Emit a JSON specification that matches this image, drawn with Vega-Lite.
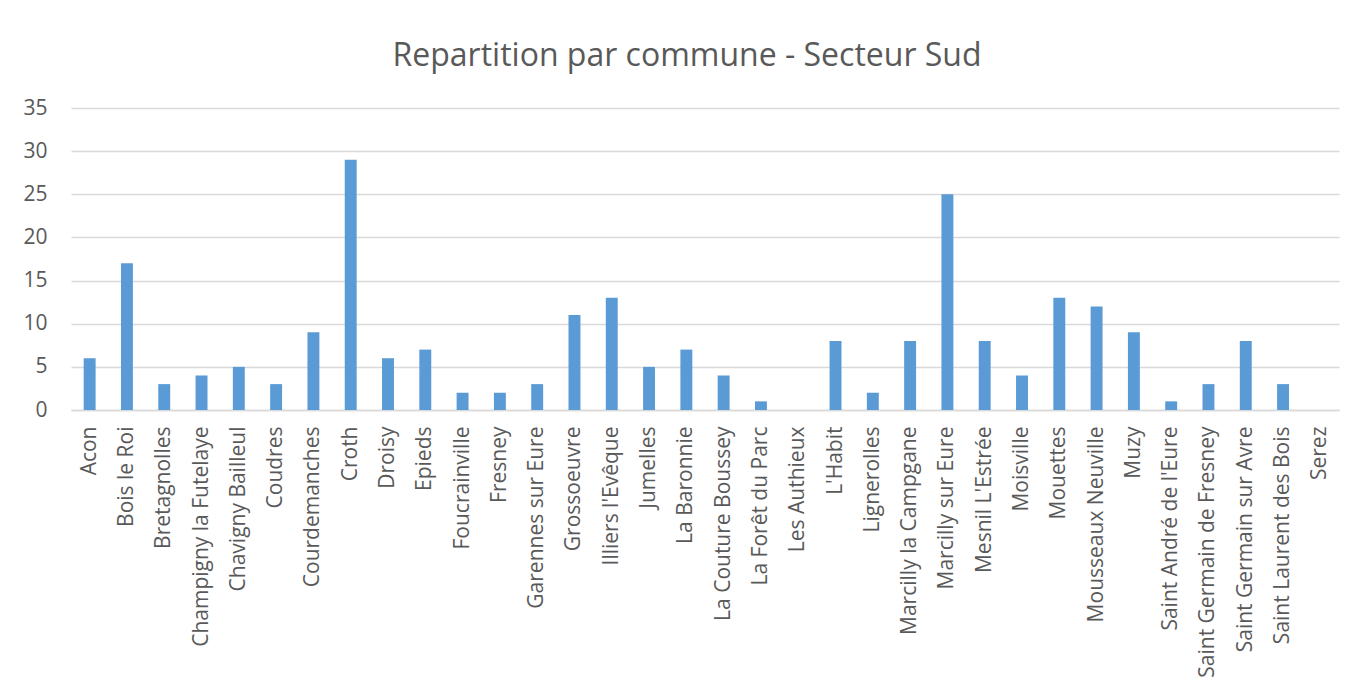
{
  "$schema": "https://vega.github.io/schema/vega-lite/v6.json",
  "width": 1268,
  "height": 302,
  "autosize": "none",
  "padding": {"left": 71, "top": 108, "right": 21, "bottom": 278},
  "background": "white",
  "title": {
    "text": "Repartition par commune - Secteur Sud",
    "font": "Open Sans",
    "fontSize": 32,
    "fontWeight": "normal",
    "color": "#595959",
    "anchor": "middle",
    "offset": 24,
    "dx": -18
  },
  "data": {
    "values": [
      {"commune": "Acon", "n": 6},
      {"commune": "Bois le Roi", "n": 17},
      {"commune": "Bretagnolles", "n": 3},
      {"commune": "Champigny la Futelaye", "n": 4},
      {"commune": "Chavigny Bailleul", "n": 5},
      {"commune": "Coudres", "n": 3},
      {"commune": "Courdemanches", "n": 9},
      {"commune": "Croth", "n": 29},
      {"commune": "Droisy", "n": 6},
      {"commune": "Epieds", "n": 7},
      {"commune": "Foucrainville", "n": 2},
      {"commune": "Fresney", "n": 2},
      {"commune": "Garennes sur Eure", "n": 3},
      {"commune": "Grossoeuvre", "n": 11},
      {"commune": "Illiers l'Evêque", "n": 13},
      {"commune": "Jumelles", "n": 5},
      {"commune": "La Baronnie", "n": 7},
      {"commune": "La Couture Boussey", "n": 4},
      {"commune": "La Forêt du Parc", "n": 1},
      {"commune": "Les Authieux", "n": 0},
      {"commune": "L'Habit", "n": 8},
      {"commune": "Lignerolles", "n": 2},
      {"commune": "Marcilly la Campgane", "n": 8},
      {"commune": "Marcilly sur Eure", "n": 25},
      {"commune": "Mesnil L'Estrée", "n": 8},
      {"commune": "Moisville", "n": 4},
      {"commune": "Mouettes", "n": 13},
      {"commune": "Mousseaux Neuville", "n": 12},
      {"commune": "Muzy", "n": 9},
      {"commune": "Saint André de l'Eure", "n": 1},
      {"commune": "Saint Germain de Fresney", "n": 3},
      {"commune": "Saint Germain sur Avre", "n": 8},
      {"commune": "Saint Laurent des Bois", "n": 3},
      {"commune": "Serez", "n": 0}
    ]
  },
  "mark": {"type": "bar", "color": "#5B9BD5"},
  "encoding": {
    "x": {
      "field": "commune",
      "type": "nominal",
      "sort": null,
      "scale": {"paddingInner": 0.68, "paddingOuter": 0.34},
      "axis": {
        "title": null,
        "labelAngle": -90,
        "labelFont": "Open Sans",
        "labelFontSize": 21,
        "labelColor": "#595959",
        "labelPadding": 16,
        "ticks": false,
        "domainColor": "#d9d9d9",
        "domainWidth": 1.5,
        "labelLimit": 400
      }
    },
    "y": {
      "field": "n",
      "type": "quantitative",
      "scale": {"domain": [0, 35], "nice": false},
      "axis": {
        "title": null,
        "values": [0, 5, 10, 15, 20, 25, 30, 35],
        "labelFont": "Open Sans",
        "labelFontSize": 21,
        "labelColor": "#595959",
        "labelPadding": 24,
        "ticks": false,
        "domain": false,
        "gridColor": "#d9d9d9",
        "gridWidth": 1.5
      }
    }
  },
  "config": {"view": {"stroke": null}}
}
